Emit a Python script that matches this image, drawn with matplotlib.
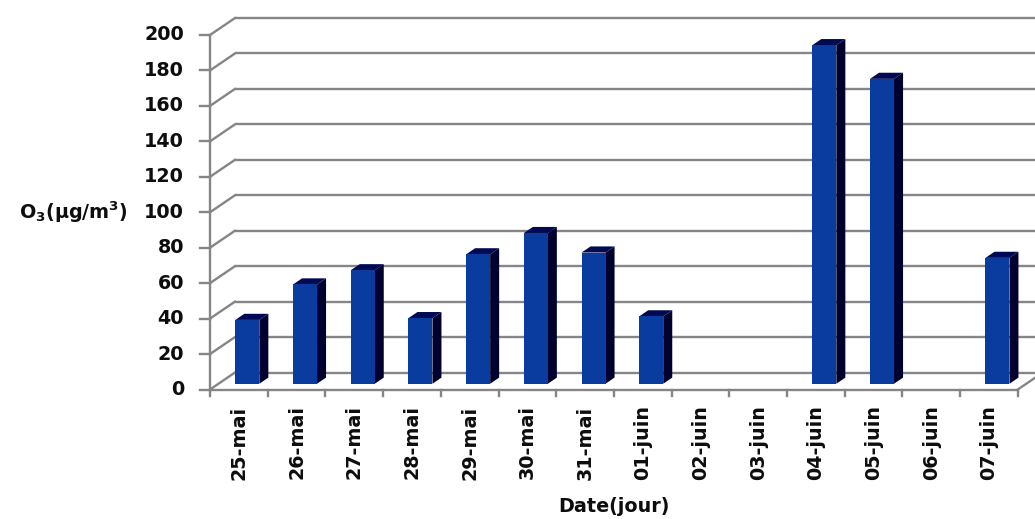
import numpy as np
import matplotlib
matplotlib.use("Agg")
import matplotlib.pyplot as plt
from matplotlib.patches import Polygon

# Daily ozone concentrations (µg/m³); NaN = no measurement
dates = ["25-mai", "26-mai", "27-mai", "28-mai", "29-mai", "30-mai", "31-mai",
         "01-juin", "02-juin", "03-juin", "04-juin", "05-juin", "06-juin", "07-juin"]
o3 = [36, 56, 64, 37, 73, 85, 74, 38, np.nan, np.nan, 191, 172, np.nan, 71]
y_ticks = [0, 20, 40, 60, 80, 100, 120, 140, 160, 180, 200]
y_title = "O$_3$(µg/m$^3$)"
x_title = "Date(jour)"

plt.rcParams["mathtext.fontset"] = "custom"
plt.rcParams["mathtext.rm"] = "DejaVu Sans:bold"
plt.rcParams["mathtext.default"] = "rm"
FONT = dict(family="DejaVu Sans", weight="bold", color="#0d0d0d")
FS = 13.8

W, H = 1035, 519
fig = plt.figure(figsize=(W / 100, H / 100), dpi=100)
ax = fig.add_axes([0, 0, 1, 1])

# one data unit along x = one category; y in µg/m³
x0_px, cat_px, y0_px, unit_px = 210.0, 57.7, 389.5, 1.7725
ax.set_xlim(-x0_px / cat_px, (W - x0_px) / cat_px)
ax.set_ylim(-(H - y0_px) / unit_px, y0_px / unit_px)
ax.axis("off")

n = len(dates)
ymax = y_ticks[-1]
DX, DY = 25 / cat_px, 17 / unit_px          # oblique depth offset of the back wall
grid_c, grid_lw = "#858585", 1.7
xr = ax.get_xlim()[1]

# back wall gridlines and side-wall diagonals
for v in y_ticks:
    ax.plot([DX, xr], [v + DY, v + DY], color=grid_c, lw=grid_lw, zorder=1,
            solid_capstyle="butt")
    ax.plot([0, DX], [v, v + DY], color=grid_c, lw=grid_lw, zorder=1)
# right edge of the floor
ax.plot([n, n + DX], [0, DY], color=grid_c, lw=grid_lw, zorder=1)

# 3-D style columns
front_c, side_c, top_c = "#0a3c9f", "#00002e", "#000a52"
hw = 0.208
d0, d1 = 0.34, 0.70
for i, v in enumerate(o3):
    if np.isnan(v):
        continue
    c = i + 0.5
    xl0, xr0 = c - hw + d0 * DX, c + hw + d0 * DX
    xl1, xr1 = c - hw + d1 * DX, c + hw + d1 * DX
    b0, b1 = d0 * DY, d1 * DY
    ax.add_patch(Polygon([(xr0, b0), (xr0, v + b0), (xr1, v + b1), (xr1, b1)],
                         closed=True, fc=side_c, ec="none", zorder=3))
    ax.add_patch(Polygon([(xl0, v + b0), (xr0, v + b0), (xr1, v + b1), (xl1, v + b1)],
                         closed=True, fc=top_c, ec="none", zorder=3))
    ax.add_patch(Polygon([(xl0, b0), (xr0, b0), (xr0, v + b0), (xl0, v + b0)],
                         closed=True, fc=front_c, ec="none", zorder=3))

# front axes with tick marks
ax.plot([0, 0], [0, ymax], color=grid_c, lw=grid_lw, zorder=4)
ax.plot([0, n], [0, 0], color=grid_c, lw=grid_lw, zorder=4)
ytick_len = 10 / cat_px
for v in y_ticks:
    ax.plot([-ytick_len, 0], [v, v], color=grid_c, lw=grid_lw, zorder=4)
    ax.text(-26 / cat_px, v, str(v), ha="right", va="center", fontsize=FS, **FONT)
xtick_len = 6.5 / unit_px
for k in range(n + 1):
    ax.plot([k, k], [0, -xtick_len], color=grid_c, lw=grid_lw, zorder=4)
for i, lab in enumerate(dates):
    ax.text(i + 0.5, -9, lab, rotation=90, ha="center", va="top", fontsize=FS, **FONT)

ax.text(-82 / cat_px, 100, y_title, ha="right", va="center", fontsize=FS, **FONT)
ax.text(n / 2, -(507 - y0_px) / unit_px, x_title, ha="center", va="center",
        fontsize=FS, **FONT)

fig.savefig("out.png", dpi=100, facecolor="white")
